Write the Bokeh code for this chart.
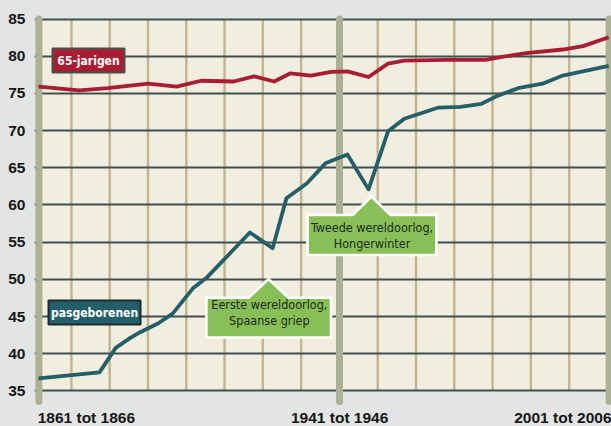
from bokeh.plotting import figure
from bokeh.models import Range1d, FixedTicker, GlobalInlineStyleSheet
from bokeh.core.properties import value
from bokeh.embed import file_html
from bokeh.resources import INLINE
import numpy as np

# ---- data ----
teal_years = [1861, 1876, 1880, 1883.5, 1886, 1890.5, 1894, 1899, 1902.5, 1913, 1918.6,
              1922, 1927, 1931.6, 1937, 1942.2, 1947, 1951, 1959.4, 1964.8, 1970, 1974,
              1979, 1985, 1990, 2001.3]
teal_values = [36.7, 37.5, 40.8, 42.1, 42.9, 44.1, 45.4, 48.8, 50.3, 56.3, 54.2,
               60.9, 62.9, 65.6, 66.8, 62.1, 69.9, 71.6, 73.1, 73.2, 73.6, 74.7,
               75.7, 76.3, 77.4, 78.7]

red_years = [1861, 1871, 1878, 1888, 1895, 1901, 1909, 1914, 1919, 1923, 1928, 1933,
             1937, 1942.2, 1947, 1951, 1961, 1971, 1975, 1981, 1990, 1995, 2001.3]
red_values = [75.9, 75.4, 75.7, 76.3, 75.9, 76.7, 76.6, 77.3, 76.6, 77.7, 77.4, 77.9,
              77.95, 77.2, 79.0, 79.4, 79.5, 79.5, 79.9, 80.4, 80.9, 81.35, 82.55]

y_ticks = [35, 40, 45, 50, 55, 60, 65, 70, 75, 80, 85]
x_labels = ["1861 tot 1866", "1941 tot 1946", "2001 tot 2006"]
x_label_pos = [1860.8, 1935.1, 2002.0]
x_label_align = ["left", "center", "right"]
marker_years = [1861.1, 1935.06, 2001.4]

series_names = ["65-jarigen", "pasgeborenen"]

BG = "#E3E4E4"
CREAM = "#F2EEDF"
TEAL = "#245F69"
RED = "#A91D33"
GREEN = "#88C057"
DARK = "#3D5150"
TAN = "#C2B493"
BAR = "#ACB095"

p = figure(width=611, height=426, output_backend="svg", toolbar_location=None,
           x_range=Range1d(1860.016, 2001.98), y_range=Range1d(30.228, 87.487),
           x_axis_location=None, min_border_left=34, min_border_right=0,
           min_border_top=0, min_border_bottom=0)
p.background_fill_color = BG
p.border_fill_color = BG
p.outline_line_color = None
p.stylesheets = [GlobalInlineStyleSheet(css="body{background:%s;}" % BG)]

# cream plotting area
p.quad(left=[1861.1], right=[2002.5], bottom=[35], top=[85], fill_color=CREAM,
       line_color=None, level="image")

# vertical decorative grid
grid_x = 1869.1 + 9.42 * np.arange(14)
p.segment(x0=grid_x, x1=grid_x, y0=35, y1=85, line_color=TAN, line_width=2.4, level="image")

# horizontal grid
p.xgrid.visible = False
p.ygrid.ticker = FixedTicker(ticks=y_ticks)
p.ygrid.grid_line_color = DARK
p.ygrid.grid_line_width = 2.2

# y axis
ax = p.yaxis[0]
ax.ticker = FixedTicker(ticks=y_ticks)
ax.axis_line_color = None
ax.major_tick_line_color = None
ax.minor_tick_line_color = None
ax.major_label_standoff = 3
ax.major_label_text_font = "Liberation Sans"
ax.major_label_text_font_style = "bold"
ax.major_label_text_font_size = "15.5px"
ax.major_label_text_color = "#161616"

# thick marker bars
p.segment(x0=marker_years, x1=marker_years, y0=33.6, y1=85, line_color=BAR,
          line_width=7, line_cap="round")

# series lines
p.line(red_years, red_values, line_color=RED, line_width=3.8, line_join="round")
p.line(teal_years, teal_values, line_color=TEAL, line_width=3.8, line_join="round")

# x labels
p.text(x=x_label_pos, y=[31.45] * 3, text=x_labels, text_align=x_label_align,
       text_baseline="middle", text_font=value("Liberation Sans"), text_font_style="bold",
       text_font_size="15.5px", text_color="#161616")

NARROW = "DejaVu Sans Condensed"

# series label boxes
p.quad(left=[1864.44], right=[1882.16], bottom=[77.81], top=[81.04], fill_color=RED,
       line_color="#47504E", line_width=2)
p.quad(left=[1863.46], right=[1886.1], bottom=[43.94], top=[47.16], fill_color=TEAL,
       line_color="#1C2B30", line_width=2)
p.text(x=[1873.3, 1874.8], y=[79.4, 45.55], text=series_names, text_align="center",
       text_baseline="middle", text_font=value(NARROW), text_font_style="bold",
       text_font_size="12px", text_color="white")

# callouts
def callout(x0, x1, yb, yt, xb0, xb1, xa, ya):
    xs = [x0, xb0, xa, xb1, x1, x1, x0]
    ys = [yt, yt, ya, yt, yt, yb, yb]
    p.patch(xs, ys, fill_color=GREEN, line_color="white", line_width=2.6, line_join="miter")

callout(1902.3, 1932.97, 42.2, 47.53, 1912.7, 1922.5, 1917.6, 50.05)
callout(1927.2, 1958.9, 53.28, 58.66, 1938.3, 1947.6, 1942.9, 61.14)

p.text(x=[1917.8, 1917.8, 1943.05, 1943.05], y=[46.64, 44.49, 57.0, 54.78],
       text=["Eerste wereldoorlog,", "Spaanse griep", "Tweede wereldoorlog,", "Hongerwinter"],
       text_align="center", text_baseline="middle", text_font=value(NARROW),
       text_font_size="12.5px", text_color="#1B2A18")

open("out.html", "w").write(file_html(p, INLINE))
